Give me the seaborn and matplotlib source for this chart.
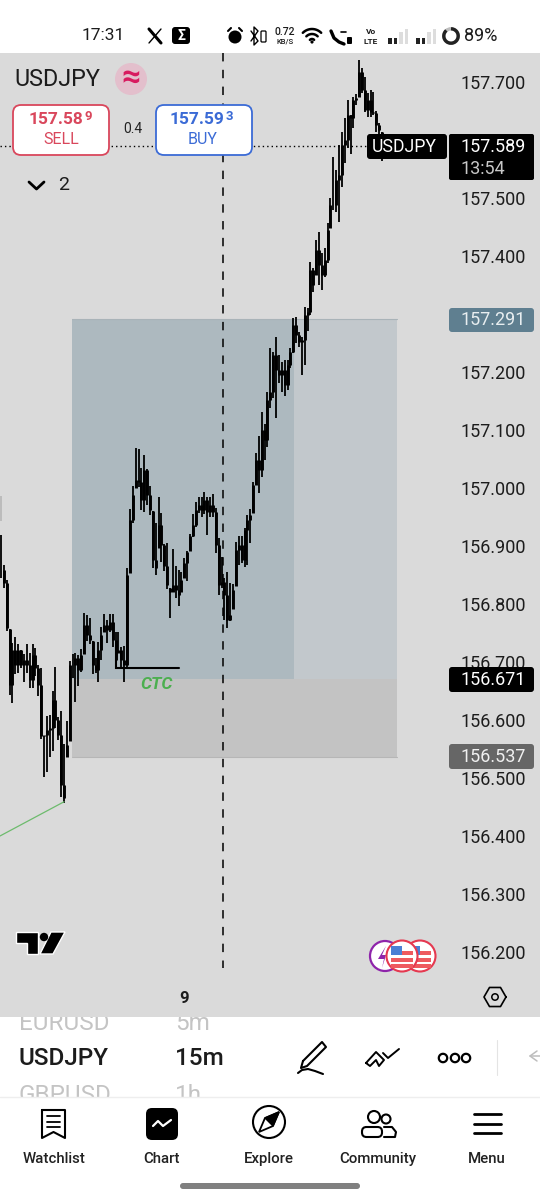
import matplotlib
matplotlib.use("Agg")
import matplotlib.pyplot as plt
import matplotlib.patches as mpatches
import numpy as np
import pandas as pd
import seaborn as sns

# bar data (USDJPY 15m)
highs = [156.919, 156.867, 156.841, 156.757, 156.733, 156.743, 156.731, 156.721, 156.714, 156.731,
         156.715, 156.731, 156.724, 156.695, 156.689, 156.572, 156.607, 156.608, 156.650, 156.691,
         156.605, 156.615, 156.558, 156.598, 156.701, 156.714, 156.715, 156.712, 156.722, 156.784,
         156.781, 156.776, 156.736, 156.707, 156.734, 156.760, 156.783, 156.772, 156.783, 156.783,
         156.751, 156.751, 156.726, 156.727, 156.862, 156.963, 157.003, 157.069, 157.067, 157.034,
         157.057, 157.032, 157.003, 156.960, 156.939, 156.984, 156.957, 156.903, 156.905, 156.827,
         156.895, 156.865, 156.858, 156.855, 156.879, 156.891, 156.920, 156.955, 156.976, 156.984,
         156.984, 156.993, 156.984, 156.984, 156.989, 156.965, 156.913, 156.881, 156.845, 156.855,
         156.836, 156.834, 156.907, 156.917, 156.917, 156.931, 156.953, 156.963, 157.010, 157.060,
         157.089, 157.131, 157.110, 157.165, 157.241, 157.234, 157.260, 157.229, 157.217, 157.220,
         157.220, 157.241, 157.293, 157.295, 157.269, 157.260, 157.312, 157.310, 157.389, 157.379,
         157.427, 157.441, 157.405, 157.413, 157.457, 157.500, 157.570, 157.548, 157.591, 157.613,
         157.638, 157.669, 157.643, 157.674, 157.679, 157.738, 157.724, 157.708, 157.681, 157.686,
         157.682, 157.650, 157.629, 157.613]
lows = [156.845, 156.827, 156.753, 156.643, 156.629, 156.679, 156.681, 156.689, 156.665, 156.681,
        156.655, 156.655, 156.676, 156.641, 156.567, 156.501, 156.510, 156.536, 156.546, 156.586,
        156.565, 156.467, 156.457, 156.536, 156.564, 156.672, 156.631, 156.658, 156.682, 156.714,
        156.736, 156.731, 156.679, 156.681, 156.665, 156.703, 156.751, 156.733, 156.751, 156.726,
        156.689, 156.715, 156.691, 156.665, 156.689, 156.853, 156.939, 157.000, 157.001, 156.962,
        156.958, 156.970, 156.953, 156.862, 156.850, 156.896, 156.872, 156.857, 156.826, 156.776,
        156.820, 156.810, 156.796, 156.820, 156.845, 156.839, 156.891, 156.915, 156.932, 156.957,
        156.950, 156.955, 156.919, 156.950, 156.950, 156.888, 156.815, 156.827, 156.772, 156.758,
        156.770, 156.791, 156.831, 156.867, 156.870, 156.863, 156.867, 156.905, 156.957, 157.005,
        156.991, 157.019, 157.048, 157.070, 157.138, 157.155, 157.120, 157.181, 157.165, 157.158,
        157.169, 157.207, 157.232, 157.250, 157.243, 157.195, 157.212, 157.270, 157.298, 157.338,
        157.367, 157.350, 157.341, 157.363, 157.388, 157.448, 157.479, 157.475, 157.458, 157.519,
        157.560, 157.586, 157.575, 157.620, 157.660, 157.674, 157.681, 157.648, 157.639, 157.639,
        157.643, 157.613, 157.608, 157.563]
closes = [156.858, 156.836, 156.758, 156.660, 156.720, 156.695, 156.720, 156.695, 156.703, 156.695,
          156.669, 156.712, 156.689, 156.660, 156.572, 156.574, 156.582, 156.586, 156.634, 156.600,
          156.574, 156.488, 156.465, 156.557, 156.695, 156.695, 156.707, 156.686, 156.712, 156.763,
          156.746, 156.738, 156.695, 156.686, 156.720, 156.746, 156.763, 156.755, 156.769, 156.738,
          156.703, 156.720, 156.703, 156.695, 156.850, 156.944, 156.988, 157.013, 157.010, 156.979,
          157.031, 156.988, 156.962, 156.876, 156.862, 156.936, 156.901, 156.865, 156.833, 156.820,
          156.833, 156.824, 156.815, 156.841, 156.870, 156.889, 156.917, 156.936, 156.962, 156.970,
          156.962, 156.979, 156.958, 156.970, 156.958, 156.901, 156.833, 156.838, 156.815, 156.772,
          156.781, 156.824, 156.893, 156.901, 156.876, 156.927, 156.944, 156.953, 157.005, 157.048,
          157.031, 157.100, 157.082, 157.151, 157.165, 157.229, 157.203, 157.195, 157.203, 157.177,
          157.212, 157.234, 157.281, 157.263, 157.251, 157.255, 157.298, 157.303, 157.375, 157.350,
          157.410, 157.384, 157.367, 157.393, 157.444, 157.488, 157.488, 157.531, 157.539, 157.591,
          157.600, 157.643, 157.638, 157.669, 157.672, 157.717, 157.686, 157.651, 157.669, 157.648,
          157.646, 157.625, 157.617, 157.589]

# 157.300 and 157.600 are hidden behind badges on the chart
price_ticks = [156.2, 156.3, 156.4, 156.5, 156.6, 156.7, 156.8, 156.9, 157.0, 157.1, 157.2, 157.4, 157.5, 157.7]
last_price = 157.589
target_price = 157.291
entry_price = 156.671
stop_price = 156.537

GRAY = "#dadada"
INK = "#1c1c1c"

sns.set_style("white")
plt.rcParams["font.family"] = ["Roboto", "DejaVu Sans"]

fig = plt.figure(figsize=(5.4, 11.99), dpi=100, facecolor="white")
fig.add_artist(mpatches.Rectangle((0, 182 / 1199), 1, 964 / 1199, transform=fig.transFigure,
                                  facecolor=GRAY, edgecolor="none", zorder=-1))

ax = fig.add_axes([0, 182 / 1199, 447 / 540, 964 / 1199], facecolor=GRAY)
bars = np.arange(len(highs))
opens = np.clip(np.r_[closes[0], closes[:-1]], lows, highs)

ax.axvspan(-0.35, 0.4, ymin=0.515, ymax=0.54, color="#bcbcbc", lw=0)
ax.fill_between([24.8, 102.3], entry_price, target_price, color="#adb9bf", lw=0)
ax.fill_between([102.3, 138.2], entry_price, target_price, color="#c2c8cc", lw=0)
ax.fill_between([24.8, 138.2], stop_price, entry_price, color="#c3c3c3", lw=0)
ax.plot([24.8, 138.2], [target_price, target_price], color="#a9b3b8", lw=0.8)
ax.plot([24.8, 138.2], [stop_price, stop_price], color="#b6b6b6", lw=0.8)

# wicks and bodies
wicks = pd.DataFrame({"bar": np.r_[bars, bars], "price": np.r_[highs, lows]})
bodies = pd.DataFrame({"bar": np.r_[bars, bars], "price": np.r_[opens, closes]})
sns.lineplot(data=wicks, x="bar", y="price", units="bar", estimator=None, color="black",
             linewidth=1.3, solid_capstyle="butt", legend=False, ax=ax)
sns.lineplot(data=bodies, x="bar", y="price", units="bar", estimator=None, color="black",
             linewidth=2.1, solid_capstyle="butt", legend=False, ax=ax)

# drawings
trend = pd.DataFrame({"bar": [-0.35, 22.0], "price": [156.400, 156.459]})
sns.lineplot(data=trend, x="bar", y="price", color="#6dbb6d", linewidth=0.9, legend=False, ax=ax)
ax.plot([40.2, 40.2, 62.2], [156.725, 156.689, 156.689], color="black", lw=1.5, solid_joinstyle="miter")
ax.text(54.2, 156.662, "CTC", color="#4caf50", fontsize=12.5, fontweight="bold", fontstyle="italic",
        ha="center", va="center")
ax.plot([-0.35, 128], [last_price, last_price], color="black", lw=1, ls=(0, (1, 2.2)))
ax.plot([77.5, 77.5], [157.75, 156.172], color="black", lw=1.1, ls=(0, (5.5, 5.5)))

ax.set_xlim(-0.349, 155.67)
ax.set_ylim(156.0879, 157.75)
ax.yaxis.tick_right()
ax.set_yticks(price_ticks)
ax.set_yticklabels([f"{p:.3f}" for p in price_ticks])
ax.set_xticks([63.9])
ax.set_xticklabels(["9"], fontweight="bold")
ax.tick_params(axis="y", length=0, pad=10, labelsize=13, labelcolor=INK)
ax.tick_params(axis="x", length=0, pad=-19, labelsize=12, labelcolor=INK)
ax.set_xlabel("")
ax.set_ylabel("")
sns.despine(ax=ax, left=True, bottom=True, right=True, top=True)

# app chrome, pixel coordinates
ui = fig.add_axes([0, 0, 1, 1], facecolor="none")
ui.set_xlim(0, 540)
ui.set_ylim(1199, 0)
ui.axis("off")


def label(x, y, s, size=13, color=INK, ha="center", weight="normal", **kw):
    return ui.text(x, y + 1, s, fontsize=size, color=color, ha=ha, va="center", fontweight=weight, **kw)


def rbox(x0, y0, x1, y1, r, fc, ec="none", lw=0, z=2):
    p = mpatches.FancyBboxPatch((x0, y0), x1 - x0, y1 - y0, boxstyle=f"round,pad=0,rounding_size={r}",
                                facecolor=fc, edgecolor=ec, linewidth=lw, zorder=z)
    ui.add_patch(p)
    return p


def circle(x, y, r, fc="none", ec="none", lw=0, z=3):
    ui.add_patch(mpatches.Circle((x, y), r, facecolor=fc, edgecolor=ec, linewidth=lw, zorder=z))


def stroke(xs, ys, lw=1.5, color="black", z=3):
    ui.plot(xs, ys, color=color, lw=lw, solid_capstyle="round", solid_joinstyle="round", zorder=z)


# status bar
label(103, 35, "17:31", 12.5)
stroke([149, 161], [29, 43], 2.2)
stroke([161, 149], [29, 43], 1.0)
rbox(172, 27, 190, 44, 3, "black")
label(181, 34.5, "Σ", 10, "white", weight="bold", zorder=4)
circle(235, 37, 6.5, "black")
stroke([228, 231], [31, 28], 1.5)
stroke([239, 242], [28, 31], 1.5)
stroke([251, 258, 254, 254, 258, 251], [31, 41, 45, 27, 31, 41], 1.0)
rbox(261, 31, 266, 42, 1, "none", "black", 0.9)
label(285, 31, "0.72", 7.5, weight="medium")
label(285, 41, "KB/S", 5.5, weight="medium")
for r, lw in [(13, 1.8), (8, 1.8), (3, 1.8)]:
    t = np.linspace(np.pi * 1.25, np.pi * 1.75, 12)
    stroke(312 + r * np.cos(t), 42 + r * np.sin(t), lw)
circle(312, 42, 1.6, "black")
stroke([331, 334, 339, 344], [31, 38, 42, 44], 2.4)
stroke([341, 346], [32, 32], 1.2)
rbox(347, 37, 352, 44, 1, "black")
label(371, 31, "Vo", 6, weight="bold")
label(371, 40, "LTE", 6, weight="bold")
for x0 in (388, 416):
    for i, h in enumerate((6, 6, 12, 15)):
        col = "#222222" if i < 2 else "#dddddd"
        ui.add_patch(mpatches.Rectangle((x0 + i * 5.6, 44 - h), 3.6, h, facecolor=col, edgecolor="none", zorder=3))
circle(451, 36, 7.2, "none", "#bdbdbd", 2.4)
ui.add_patch(mpatches.Arc((451, 36), 14.4, 14.4, theta1=-90, theta2=230, color="#222222", lw=2.4, zorder=4))
label(481, 35, "89%", 13)

# symbol header
label(14, 78.5, "USDJPY", 16.8, ha="left")
circle(131, 79, 16, "#e3bfcc")
label(131, 77, "≈", 24, "#d81b60", weight="bold", zorder=4)
RED = "#d9475c"
BLUE = "#3b6bd6"
rbox(13, 105, 109, 155, 8, "white", RED, 1.3)
rbox(156, 105, 252, 155, 8, "white", BLUE, 1.3)
label(83.5, 118, "157.58", 12.5, RED, ha="right", weight="bold", zorder=4)
label(84.5, 116, "9", 9.5, RED, ha="left", weight="bold", zorder=4)
label(61, 138.5, "SELL", 11.5, RED, zorder=4)
label(224.5, 118, "157.59", 12.5, BLUE, ha="right", weight="bold", zorder=4)
label(226, 116, "3", 9.5, BLUE, ha="left", weight="bold", zorder=4)
label(203, 138.5, "BUY", 11.5, BLUE, zorder=4)
label(133, 128, "0.4", 10, "#222222")
stroke([29, 36.5, 44], [182, 189, 182], 2.0)
label(64, 184, "2", 14)

# price badges
rbox(367, 134, 447, 159, 3, "black")
label(404, 145.5, "USDJPY", 12.7, "white", zorder=4)
rbox(449, 134, 534, 180, 2, "black")
label(461, 146, f"{last_price:.3f}", 13, "white", ha="left", zorder=4)
label(461, 168, "13:54", 13, "#c8c8c8", ha="left", zorder=4)
rbox(449, 308, 534, 332, 3, "#5f7f90")
label(461, 319, f"{target_price:.3f}", 13, "#e8eef0", ha="left", zorder=4)
rbox(449, 667, 534, 692, 3, "black")
label(461, 679, f"{entry_price:.3f}", 13, "white", ha="left", zorder=4)
rbox(449, 744, 534, 769, 3, "#666666")
label(461, 756, f"{stop_price:.3f}", 13, "#f0f0f0", ha="left", zorder=4)

# logo
ui.add_patch(mpatches.Polygon([(16, 932), (38, 932), (38, 954), (27, 954), (27, 943), (16, 943)],
                              facecolor="black", edgecolor="white", lw=1, zorder=3))
ui.add_patch(mpatches.Polygon([(51, 932), (65, 932), (53, 954), (40, 954)],
                              facecolor="black", edgecolor="white", lw=1, zorder=3))
circle(44, 937, 4.2, "black")


def flag(x, z):
    circle(x, 956, 15.5, "white", "#e53950", 1.5, z)
    for dy in (-5, 2, 8):
        ui.add_patch(mpatches.Rectangle((x - 11, 956 + dy), 22, 3.5, facecolor="#ee5a5f", edgecolor="none", zorder=z + 0.1))
    ui.add_patch(mpatches.Rectangle((x - 11, 946), 11, 9, facecolor="#4a7fd4", edgecolor="none", zorder=z + 0.2))


circle(385, 956, 15, "white", "#8e24aa", 1.6, 3)
ui.add_patch(mpatches.Polygon([(386, 946), (378, 959), (384, 959), (382, 968), (386, 955), (382, 955)],
                              facecolor="#8e24aa", edgecolor="none", zorder=3.1))
flag(420, 4)
flag(402, 5)

# settings hexagon
t = np.deg2rad(np.arange(0, 361, 60))
stroke(495 + 11 * np.cos(t), 997 + 11 * np.sin(t), 1.2)
circle(495, 997, 3.2, "none", "black", 1.1)

# symbol picker, neighbours cut off by the wheel
clip = mpatches.Rectangle((0, 1017), 540, 80, transform=ui.transData)
for x, y, s, size, col in [(19, 1022, "EURUSD", 17.5, "#c4c4c4"), (175, 1022, "5m", 17.5, "#c4c4c4"),
                           (19, 1094, "GBPUSD", 17.5, "#c4c4c4"), (175, 1094, "1h", 17.5, "#c4c4c4")]:
    txt = label(x, y, s, size, col, ha="left")
    txt.set_clip_on(True)
    txt.set_clip_path(clip)
label(19, 1057.5, "USDJPY", 17.5, ha="left", weight="medium")
label(175, 1057.5, "15m", 17.5, ha="left", weight="medium")
stroke([303, 322, 326, 307, 301, 303], [1061, 1042, 1047, 1066, 1068, 1061], 1.5)
stroke([298, 302, 308, 315, 323], [1073, 1070, 1069, 1071, 1074], 1.5)
stroke([366, 376, 384, 379, 376, 370, 366], [1063, 1052, 1060, 1066, 1060, 1066, 1063], 1.4)
stroke([383, 388, 399], [1053, 1058, 1049], 1.4)
for x in (443, 455, 466):
    circle(x, 1058, 4.2, "none", "black", 1.6)
stroke([497, 497], [1040, 1075], 0.8, "#e4e4e4")
stroke([537, 530, 537], [1051, 1056, 1061], 1.1, "#bdbdbd")
stroke([530, 540], [1056, 1056], 1.1, "#bdbdbd")
stroke([0, 540], [1097, 1097], 1.0, "#eeeeee")

# bottom nav
stroke([42, 65, 65, 53.5, 42, 42], [1110, 1110, 1138, 1132, 1138, 1110], 1.5)
for y in (1116, 1122, 1127):
    stroke([47, 60], [y, y], 1.3)
rbox(146, 1108, 178, 1140, 6, "black")
stroke([153, 158, 163, 171], [1126, 1121, 1126, 1120], 1.6, "white", 4)
circle(269, 1122, 16, "none", "black", 1.5)
ui.add_patch(mpatches.Polygon([(279, 1112), (273, 1126), (259, 1132), (265, 1118)], facecolor="none",
                              edgecolor="black", lw=1.3, zorder=3))
ui.add_patch(mpatches.Polygon([(279, 1112), (273, 1126), (265, 1118)], facecolor="black", edgecolor="black", lw=1, zorder=3))
circle(374, 1117, 6, "none", "black", 1.5)
circle(386, 1119, 4.5, "none", "black", 1.5)
rbox(362, 1127, 382, 1137, 4.5, "none", "black", 1.5, 3)
stroke([384, 392, 396, 395, 384], [1127, 1127, 1132, 1137, 1137], 1.5)
for y in (1114, 1124, 1133):
    stroke([474, 501], [y, y], 2.0)
for x, s in [(54, "Watchlist"), (162, "Chart"), (269, "Explore"), (378, "Community"), (487, "Menu")]:
    label(x, 1158, s, 10.8, "#222222", weight="medium")
rbox(180, 1183, 360, 1189, 3, "#808080")

fig.savefig("out.png", dpi=100)
